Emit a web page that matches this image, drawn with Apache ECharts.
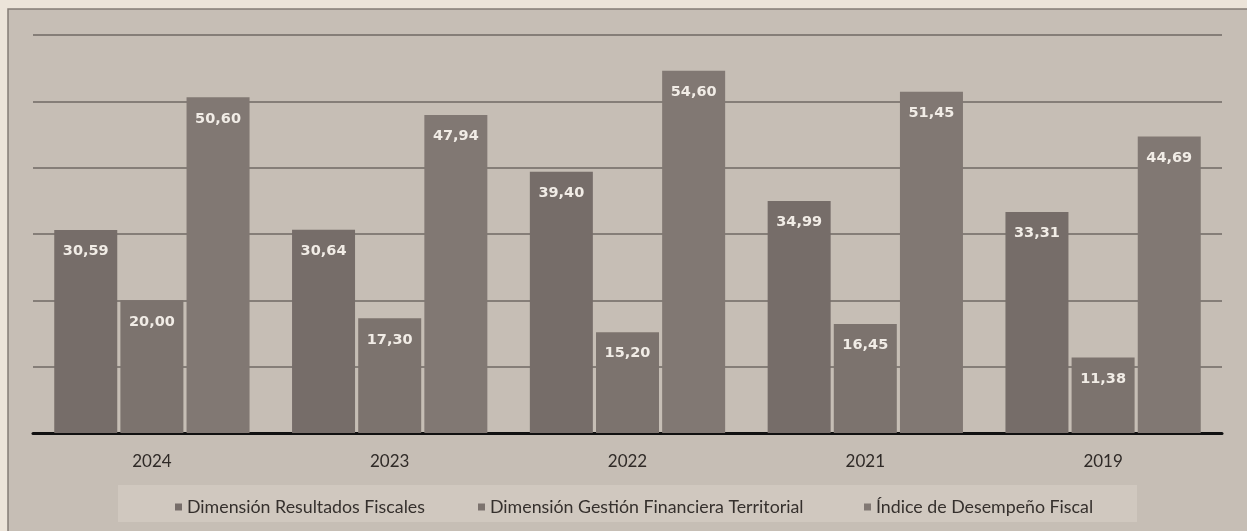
<!DOCTYPE html>
<html>
<head>
<meta charset="utf-8">
<style>
  html, body { margin: 0; padding: 0; background: #ece4d9; }
  #chart { width: 1247px; height: 531px; }
</style>
<script src="https://cdn.jsdelivr.net/npm/echarts@6/dist/echarts.min.js"></script>
</head>
<body>
<div id="chart"></div>
<script>
// Years shown along the horizontal axis
const years = ['2024', '2023', '2022', '2021', '2019'];

// Series names
const seriesNames = [
  'Dimensión Resultados Fiscales',
  'Dimensión Gestión Financiera Territorial',
  'Índice de Desempeño Fiscal'
];

// Values per year
const resultadosFiscales = [30.59, 30.64, 39.40, 34.99, 33.31];
const gestionFinanciera = [20.00, 17.30, 15.20, 16.45, 11.38];
const desempenoFiscal = [50.60, 47.94, 54.60, 51.45, 44.69];

const seriesValues = [resultadosFiscales, gestionFinanciera, desempenoFiscal];
const barColors = ['#766d69', '#7c736e', '#817873'];

const textFont = 'Lato, "Open Sans", sans-serif';

const chart = echarts.init(document.getElementById('chart'));

// Each legend entry is placed on its own
const legendLefts = [170, 473, 859];

const option = {
  backgroundColor: '#ece4d9',
  animation: false,
  graphic: [
    {
      type: 'rect',
      silent: true,
      z: -10,
      shape: { x: 8, y: 9, width: 1260, height: 540 },
      style: { fill: '#c6beb5', stroke: '#847c75', lineWidth: 1.5 }
    },
    {
      type: 'rect',
      silent: true,
      z: -9,
      shape: { x: 118, y: 485, width: 1019, height: 37 },
      style: { fill: '#d0c8bf' }
    }
  ],
  grid: { left: 33, right: 25, top: 35, bottom: 98 },
  legend: seriesNames.map((name, i) => ({
    data: [name],
    left: legendLefts[i],
    top: 493,
    icon: 'rect',
    itemWidth: 7,
    itemHeight: 7,
    itemGap: 6,
    textStyle: { color: '#35302d', fontSize: 17.8, fontFamily: textFont }
  })),
  xAxis: {
    type: 'category',
    data: years,
    axisLine: { show: true, lineStyle: { color: '#111', width: 3 } },
    axisTick: { show: false },
    axisLabel: { color: '#2f2a27', fontSize: 17, fontFamily: textFont, margin: 20 }
  },
  yAxis: {
    type: 'value',
    min: 0,
    max: 60,
    interval: 10,
    axisLine: { show: false },
    axisTick: { show: false },
    axisLabel: { show: false },
    splitLine: { lineStyle: { color: '#6f6964', width: 1.5 } }
  },
  series: seriesNames.map((name, i) => ({
    name: name,
    type: 'bar',
    data: seriesValues[i],
    barWidth: 63,
    barGap: '5%',
    itemStyle: { color: barColors[i] },
    label: {
      show: true,
      position: 'insideTop',
      distance: 14,
      color: '#f1ece6',
      fontSize: 14.5,
      fontWeight: 'bold',
      fontFamily: '"DejaVu Sans", Verdana, sans-serif',
      formatter: p => p.value.toFixed(2).replace('.', ',')
    }
  }))
};

chart.setOption(option);
</script>
</body>
</html>
